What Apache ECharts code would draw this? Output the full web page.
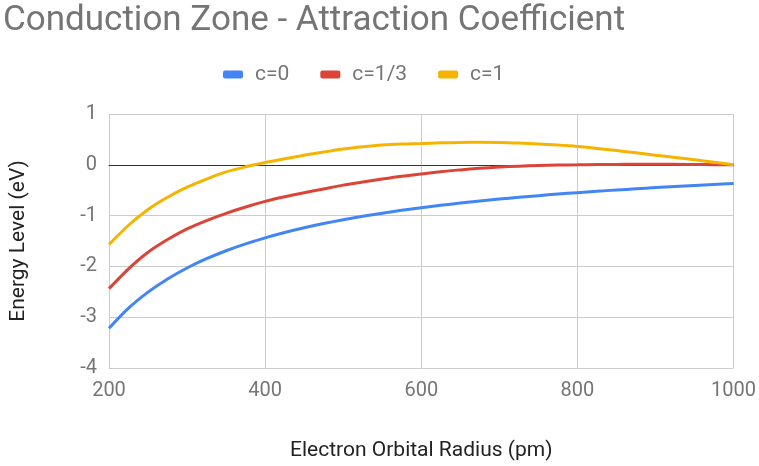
<!DOCTYPE html>
<html>
<head>
<meta charset="utf-8">
<script src="https://cdn.jsdelivr.net/npm/echarts@6/dist/echarts.min.js"></script>
<style>
html,body{margin:0;padding:0;background:#fff;}
#chart{width:759px;height:466px;}
</style>
</head>
<body>
<div id="chart"></div>
<script>
const radius = [200, 225, 250, 275, 300, 325, 350, 375, 400, 425, 450, 475, 500, 525, 550, 575, 600,
                625, 650, 675, 700, 725, 750, 775, 800, 825, 850, 875, 900, 925, 950, 975, 1000];
const c0  = [-3.218, -2.822, -2.506, -2.247, -2.031, -1.849, -1.692, -1.557, -1.438, -1.333, -1.240, -1.157, -1.082, -1.014, -0.953, -0.896, -0.845,
             -0.797, -0.753, -0.713, -0.675, -0.640, -0.607, -0.577, -0.548, -0.521, -0.496, -0.472, -0.449, -0.428, -0.407, -0.388, -0.370];
const c13 = [-2.438, -2.047, -1.72, -1.47, -1.26, -1.097, -0.955, -0.83, -0.72, -0.63, -0.55, -0.475, -0.40, -0.34, -0.28, -0.225, -0.18,
             -0.135, -0.10, -0.07, -0.045, -0.027, -0.013, -0.004, 0.0, 0.005, 0.008, 0.01, 0.01, 0.009, 0.006, 0.003, 0.0];
const c1  = [-1.57, -1.19, -0.88, -0.64, -0.44, -0.28, -0.14, -0.04, 0.045, 0.12, 0.19, 0.25, 0.31, 0.355, 0.39, 0.41, 0.42,
             0.432, 0.44, 0.443, 0.44, 0.428, 0.41, 0.388, 0.36, 0.323, 0.28, 0.237, 0.19, 0.145, 0.10, 0.05, 0.0];
const seriesNames = ['c=0', 'c=1/3', 'c=1'];
const seriesColors = ['#4285F4', '#DB4437', '#F4B400'];
const xTicks = [200, 400, 600, 800, 1000];

const pairs = arr => radius.map((r, i) => [r, arr[i]]);
const allData = [c0, c13, c1];

const chart = echarts.init(document.getElementById('chart'));
chart.setOption({
  animation: false,
  title: {
    text: 'Conduction Zone - Attraction Coefficient',
    left: 3, top: 4, padding: 0,
    textStyle: { fontFamily: 'Roboto', fontWeight: 'normal', fontSize: 35, color: '#757575' }
  },
  legend: {
    top: 59, left: 218,
    icon: 'roundRect', itemWidth: 20, itemHeight: 8, itemGap: 31,
    textStyle: { fontFamily: 'Roboto', fontSize: 21, color: '#757575', padding: [0, 0, 0, 7] },
    data: seriesNames
  },
  grid: { left: 106, right: 23, top: 114, bottom: 96, containLabel: false },
  xAxis: {
    type: 'value', min: xTicks[0], max: xTicks[xTicks.length - 1], interval: 200,
    name: 'Electron Orbital Radius (pm)', nameLocation: 'middle', nameGap: 72,
    nameTextStyle: { fontFamily: 'Roboto', fontSize: 21, color: '#222' },
    axisLine: { show: true, onZero: true, lineStyle: { color: '#333', width: 1 } },
    axisTick: { show: false },
    axisLabel: { fontFamily: 'Roboto', fontSize: 20, color: '#757575', margin: 13, formatter: v => String(v) },
    splitLine: { show: true, lineStyle: { color: '#ccc', width: 1 } }
  },
  yAxis: {
    type: 'value', min: -4, max: 1, interval: 1,
    name: 'Energy Level (eV)', nameLocation: 'middle', nameGap: 80, nameRotate: 90,
    nameTextStyle: { fontFamily: 'Roboto', fontSize: 21, color: '#222' },
    axisLine: { show: false },
    axisTick: { show: false },
    axisLabel: { fontFamily: 'Roboto', fontSize: 20, color: '#757575', margin: 12 },
    splitLine: { show: true, lineStyle: { color: '#ccc', width: 1 } }
  },
  series: seriesNames.map((name, i) => ({
    name: name, type: 'line', smooth: 0.3, showSymbol: false,
    lineStyle: { color: seriesColors[i], width: 3 },
    itemStyle: { color: seriesColors[i] },
    data: pairs(allData[i]),
    z: 3 + i
  }))
});
</script>
</body>
</html>
